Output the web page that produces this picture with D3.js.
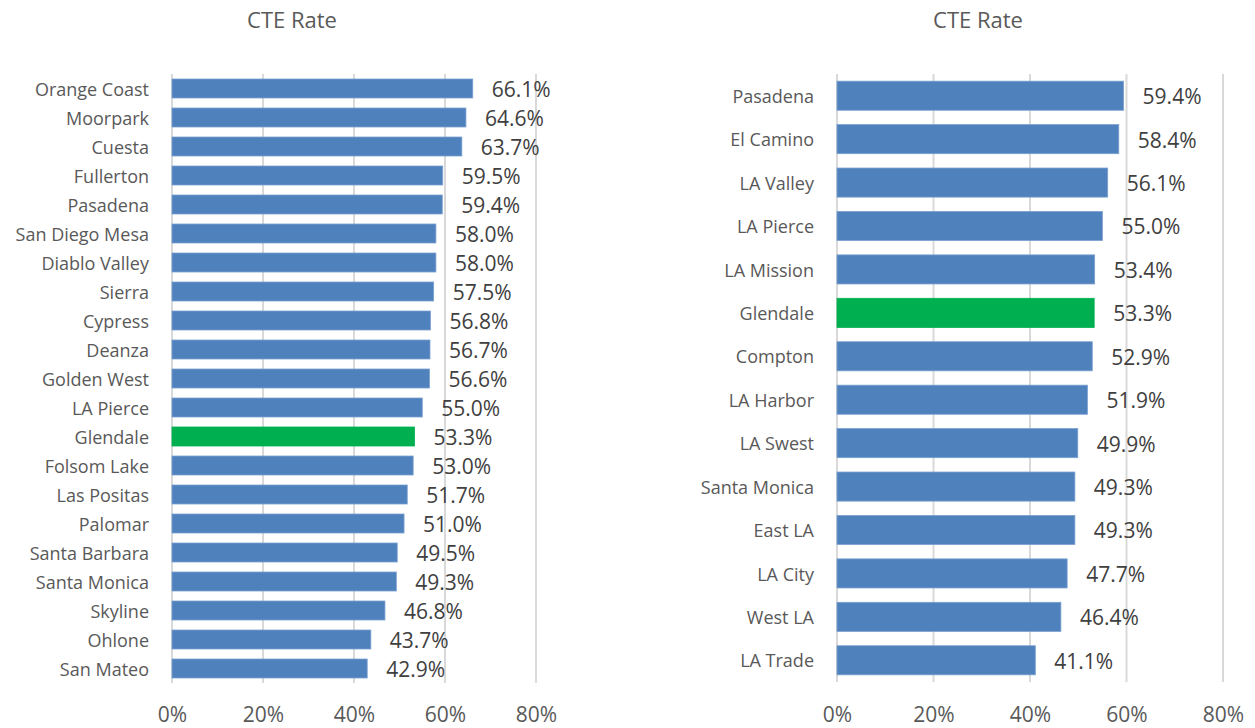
<!DOCTYPE html>
<html lang="en">
<head>
  <meta charset="UTF-8">
  <title>CTE Rate</title>
  <script src="https://d3js.org/d3.v7.min.js"></script>
  <style>
    body {
      margin: 0;
      padding: 0;
      background: #ffffff;
      font-family: "Open Sans", Arial, sans-serif;
    }
    svg text { fill: #595959; }
    .value-label { fill: #404040; }
  </style>
</head>
<body>
  <svg id="chart" width="1255" height="728"></svg>

  <script>
    // Left chart data
    const leftColleges = ["Orange Coast", "Moorpark", "Cuesta", "Fullerton", "Pasadena", "San Diego Mesa",
      "Diablo Valley", "Sierra", "Cypress", "Deanza", "Golden West", "LA Pierce", "Glendale", "Folsom Lake",
      "Las Positas", "Palomar", "Santa Barbara", "Santa Monica", "Skyline", "Ohlone", "San Mateo"];
    const leftRates = [66.1, 64.6, 63.7, 59.5, 59.4, 58.0, 58.0, 57.5, 56.8, 56.7, 56.6, 55.0, 53.3, 53.0,
      51.7, 51.0, 49.5, 49.3, 46.8, 43.7, 42.9];

    // Right chart data
    const rightColleges = ["Pasadena", "El Camino", "LA Valley", "LA Pierce", "LA Mission", "Glendale",
      "Compton", "LA Harbor", "LA Swest", "Santa Monica", "East LA", "LA City", "West LA", "LA Trade"];
    const rightRates = [59.4, 58.4, 56.1, 55.0, 53.4, 53.3, 52.9, 51.9, 49.9, 49.3, 49.3, 47.7, 46.4, 41.1];

    const xTicks = [0, 20, 40, 60, 80];
    const chartTitle = "CTE Rate";
    const highlight = "Glendale";

    const svg = d3.select("#chart");

    function drawChart(opts) {
      const g = svg.append("g");
      const data = opts.names.map((n, i) => ({ name: n, value: opts.values[i] }));

      const x = d3.scaleLinear().domain([0, 80]).range([opts.x0, opts.x1]);
      const y = d3.scaleBand()
        .domain(opts.names)
        .range([74, opts.yBottom])
        .paddingInner(opts.gap)
        .paddingOuter(opts.gap / 2);

      // title
      g.append("text")
        .attr("x", opts.titleX)
        .attr("y", 28)
        .attr("text-anchor", "middle")
        .style("font-size", "22px")
        .text(chartTitle);

      // gridlines
      g.selectAll("line.grid")
        .data(xTicks)
        .enter()
        .append("line")
        .attr("class", "grid")
        .attr("x1", d => x(d))
        .attr("x2", d => x(d))
        .attr("y1", 74)
        .attr("y2", opts.yBottom)
        .attr("stroke", "#d9d9d9")
        .attr("stroke-width", 2);

      // bottom tick labels
      const xAxis = d3.axisBottom(x).tickValues(xTicks).tickFormat(d => d + "%").tickSize(0).tickPadding(0);
      const ax = g.append("g").attr("transform", "translate(0,703)").call(xAxis);
      ax.select(".domain").remove();
      ax.selectAll("text")
        .attr("dy", "0.9em")
        .style("font-size", "21px")
        .style("font-family", "'Open Sans', Arial, sans-serif")
        .attr("fill", "#595959");

      // category labels
      const yAxis = d3.axisLeft(y).tickSize(0).tickPadding(23);
      const ay = g.append("g").attr("transform", `translate(${opts.x0},0)`).call(yAxis);
      ay.select(".domain").remove();
      ay.selectAll("text")
        .attr("dy", "0.4em")
        .style("font-size", "18px")
        .style("font-family", "'Open Sans', Arial, sans-serif")
        .attr("fill", "#595959");

      // bars
      g.selectAll("rect.bar")
        .data(data)
        .enter()
        .append("rect")
        .attr("class", "bar")
        .attr("x", x(0))
        .attr("y", d => y(d.name))
        .attr("width", d => x(d.value) - x(0))
        .attr("height", y.bandwidth())
        .attr("fill", d => d.name === highlight ? "#00b050" : "#4f81bd")
        .attr("stroke", d => d.name === highlight ? "#00b050" : "#7ba0d0")
        .attr("stroke-width", 0.8);

      // value labels
      g.selectAll("text.value-label")
        .data(data)
        .enter()
        .append("text")
        .attr("class", "value-label")
        .attr("x", d => x(d.value) + 19)
        .attr("y", d => y(d.name) + y.bandwidth() / 2)
        .attr("dy", "0.4em")
        .style("font-size", "21px")
        .text(d => d.value.toFixed(1) + "%");
    }

    drawChart({ names: leftColleges, values: leftRates, x0: 172, x1: 536, yBottom: 683, gap: 0.345, titleX: 292 });
    drawChart({ names: rightColleges, values: rightRates, x0: 837, x1: 1223, yBottom: 682, gap: 0.33, titleX: 978 });
  </script>
</body>
</html>
